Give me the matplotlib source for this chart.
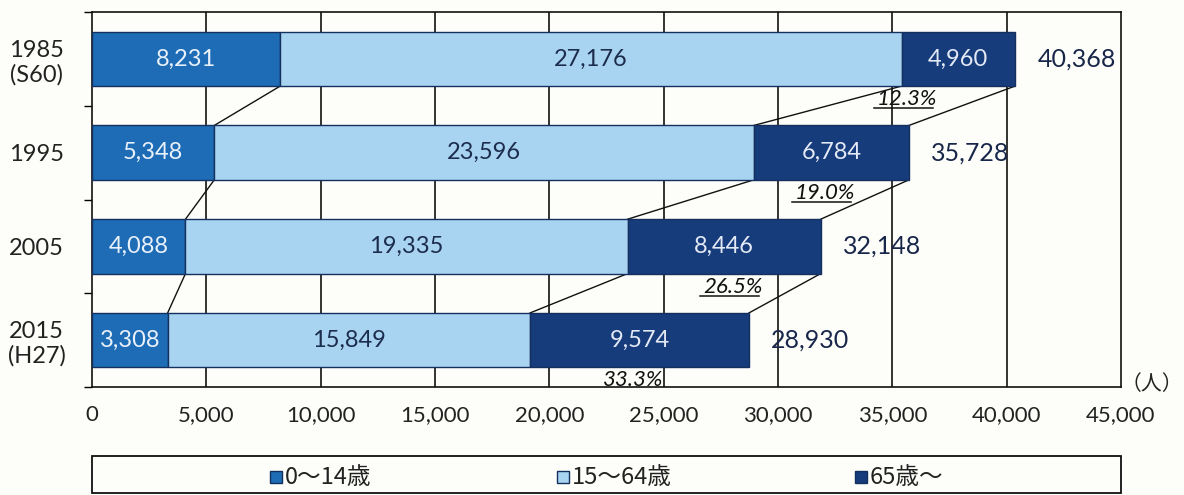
import matplotlib
matplotlib.use("Agg")
import matplotlib.pyplot as plt
from matplotlib.patches import Rectangle
from matplotlib.ticker import FixedLocator, FuncFormatter

plt.rcParams['font.family'] = ['Lato', 'Noto Sans CJK JP', 'DejaVu Sans']

# 年齢3区分別人口
years = ['1985\n(S60)', '1995', '2005', '2015\n(H27)']
age_0_14 = [8231, 5348, 4088, 3308]
age_15_64 = [27176, 23596, 19335, 15849]
age_65 = [4960, 6784, 8446, 9574]
totals = [40368, 35728, 32148, 28930]  # 年齢不詳を含む総数
series_names = ['0～14歳', '15～64歳', '65歳～']

# 高齢化率ラベルの横位置（人）
pct_x = [35640, 32050, 28030, 23656]

c_young = '#1e6cb6'
c_work = '#a9d4f1'
c_old = '#173c7b'
edge = '#14305e'
bg = '#fdfdf9'

W, H = 1184, 495
fig = plt.figure(figsize=(W / 100, H / 100), dpi=100, facecolor=bg)
ax = fig.add_axes([92 / W, 1 - 387 / H, (1121 - 92) / W, 375 / H])
ax.set_facecolor(bg)

ypos = list(range(len(years)))
h = 0.58
left2 = [a for a in age_0_14]
left3 = [a + b for a, b in zip(age_0_14, age_15_64)]
ends = [a + b + c for a, b, c in zip(age_0_14, age_15_64, age_65)]

ax.set_xlim(0, 45000)
ax.set_ylim(len(years) - 0.5, -0.5)

# 縦の目盛線
for x in range(5000, 45000, 5000):
    ax.axvline(x, color='#111111', lw=1.2, zorder=1)

ax.barh(ypos, age_0_14, height=h, color=c_young, edgecolor=edge, lw=1, zorder=3)
ax.barh(ypos, age_15_64, left=left2, height=h, color=c_work, edgecolor=edge, lw=1, zorder=3)
ax.barh(ypos, age_65, left=left3, height=h, color=c_old, edgecolor=edge, lw=1, zorder=3)

# 区分の境目を次の年とつなぐ線
for i in range(len(years) - 1):
    for a in (left2, left3, ends):
        ax.plot([a[i], a[i + 1]], [i + h / 2, i + 1 - h / 2],
                color='#111111', lw=1, zorder=2)

for i in ypos:
    ax.text(age_0_14[i] / 2, i, f'{age_0_14[i]:,}', ha='center', va='center',
            fontsize=17, color='#e9f1fb', zorder=4)
    ax.text(left2[i] + age_15_64[i] / 2, i, f'{age_15_64[i]:,}', ha='center',
            va='center', fontsize=17, color='#1c2c4c', zorder=4)
    ax.text(left3[i] + age_65[i] / 2, i, f'{age_65[i]:,}', ha='center',
            va='center', fontsize=17, color='#e3e9f5', zorder=4)
    ax.annotate(f'{totals[i]:,}', (ends[i], i), xytext=(16, 0),
                textcoords='offset points', ha='left', va='center',
                fontsize=18, color='#18264a', zorder=4)

pct_texts = []
for i in ypos:
    pct = age_65[i] / ends[i] * 100
    t = ax.text(pct_x[i], i + 0.43, f'{pct:.1f}%', ha='center', va='center',
                fontsize=16, style='italic', color='#111111', zorder=4)
    pct_texts.append(t)

# 軸
ax.xaxis.set_major_locator(FixedLocator(range(0, 45001, 5000)))
ax.xaxis.set_major_formatter(FuncFormatter(lambda v, p: f'{int(v):,}'))
ax.tick_params(axis='x', length=0, pad=13, labelsize=16, colors='#222222')
ax.set_yticks(ypos)
ax.set_yticklabels(years, ha='center', multialignment='center')
ax.tick_params(axis='y', which='major', length=0, pad=40, labelsize=17,
               colors='#222222')
ax.yaxis.set_minor_locator(FixedLocator([y - 0.5 for y in range(len(years) + 1)]))
ax.tick_params(axis='y', which='minor', length=6, width=1, direction='out')
for s in ax.spines.values():
    s.set_color('#111111')
    s.set_linewidth(1.2)

fig.text(1152 / W, 1 - 384 / H, '（人）', ha='center', va='center',
         fontsize=15, color='#222222', family=['Noto Sans CJK JP'])

# 凡例（枠と3項目）
fig.patches.append(Rectangle((92 / W, 1 - 493 / H), (1121 - 92) / W, 37 / H,
                             transform=fig.transFigure, facecolor='none',
                             edgecolor='#111111', lw=1.3))
legend_x = [270, 557, 855]
for lx, c, name in zip(legend_x, (c_young, c_work, c_old), series_names):
    fig.patches.append(Rectangle((lx / W, 1 - 483 / H), 12 / W, 12 / H,
                                 transform=fig.transFigure, facecolor=c,
                                 edgecolor=edge, lw=1))
    fig.text((lx + 15) / W, 1 - 477 / H, name, ha='left', va='center',
             fontsize=17, color='#222222', family=['Noto Sans CJK JP'])

# 高齢化率の下線
fig.canvas.draw()
inv = ax.transData.inverted()
for t in pct_texts:
    bb = t.get_window_extent()
    (x0, y0), (x1, _) = inv.transform([(bb.x0 - 3, bb.y0 + 1), (bb.x1 - 4, bb.y0 + 1)])
    ax.plot([x0, x1], [y0, y0], color='#111111', lw=1.1, zorder=4)

fig.savefig('out.png', dpi=100, facecolor=bg)
